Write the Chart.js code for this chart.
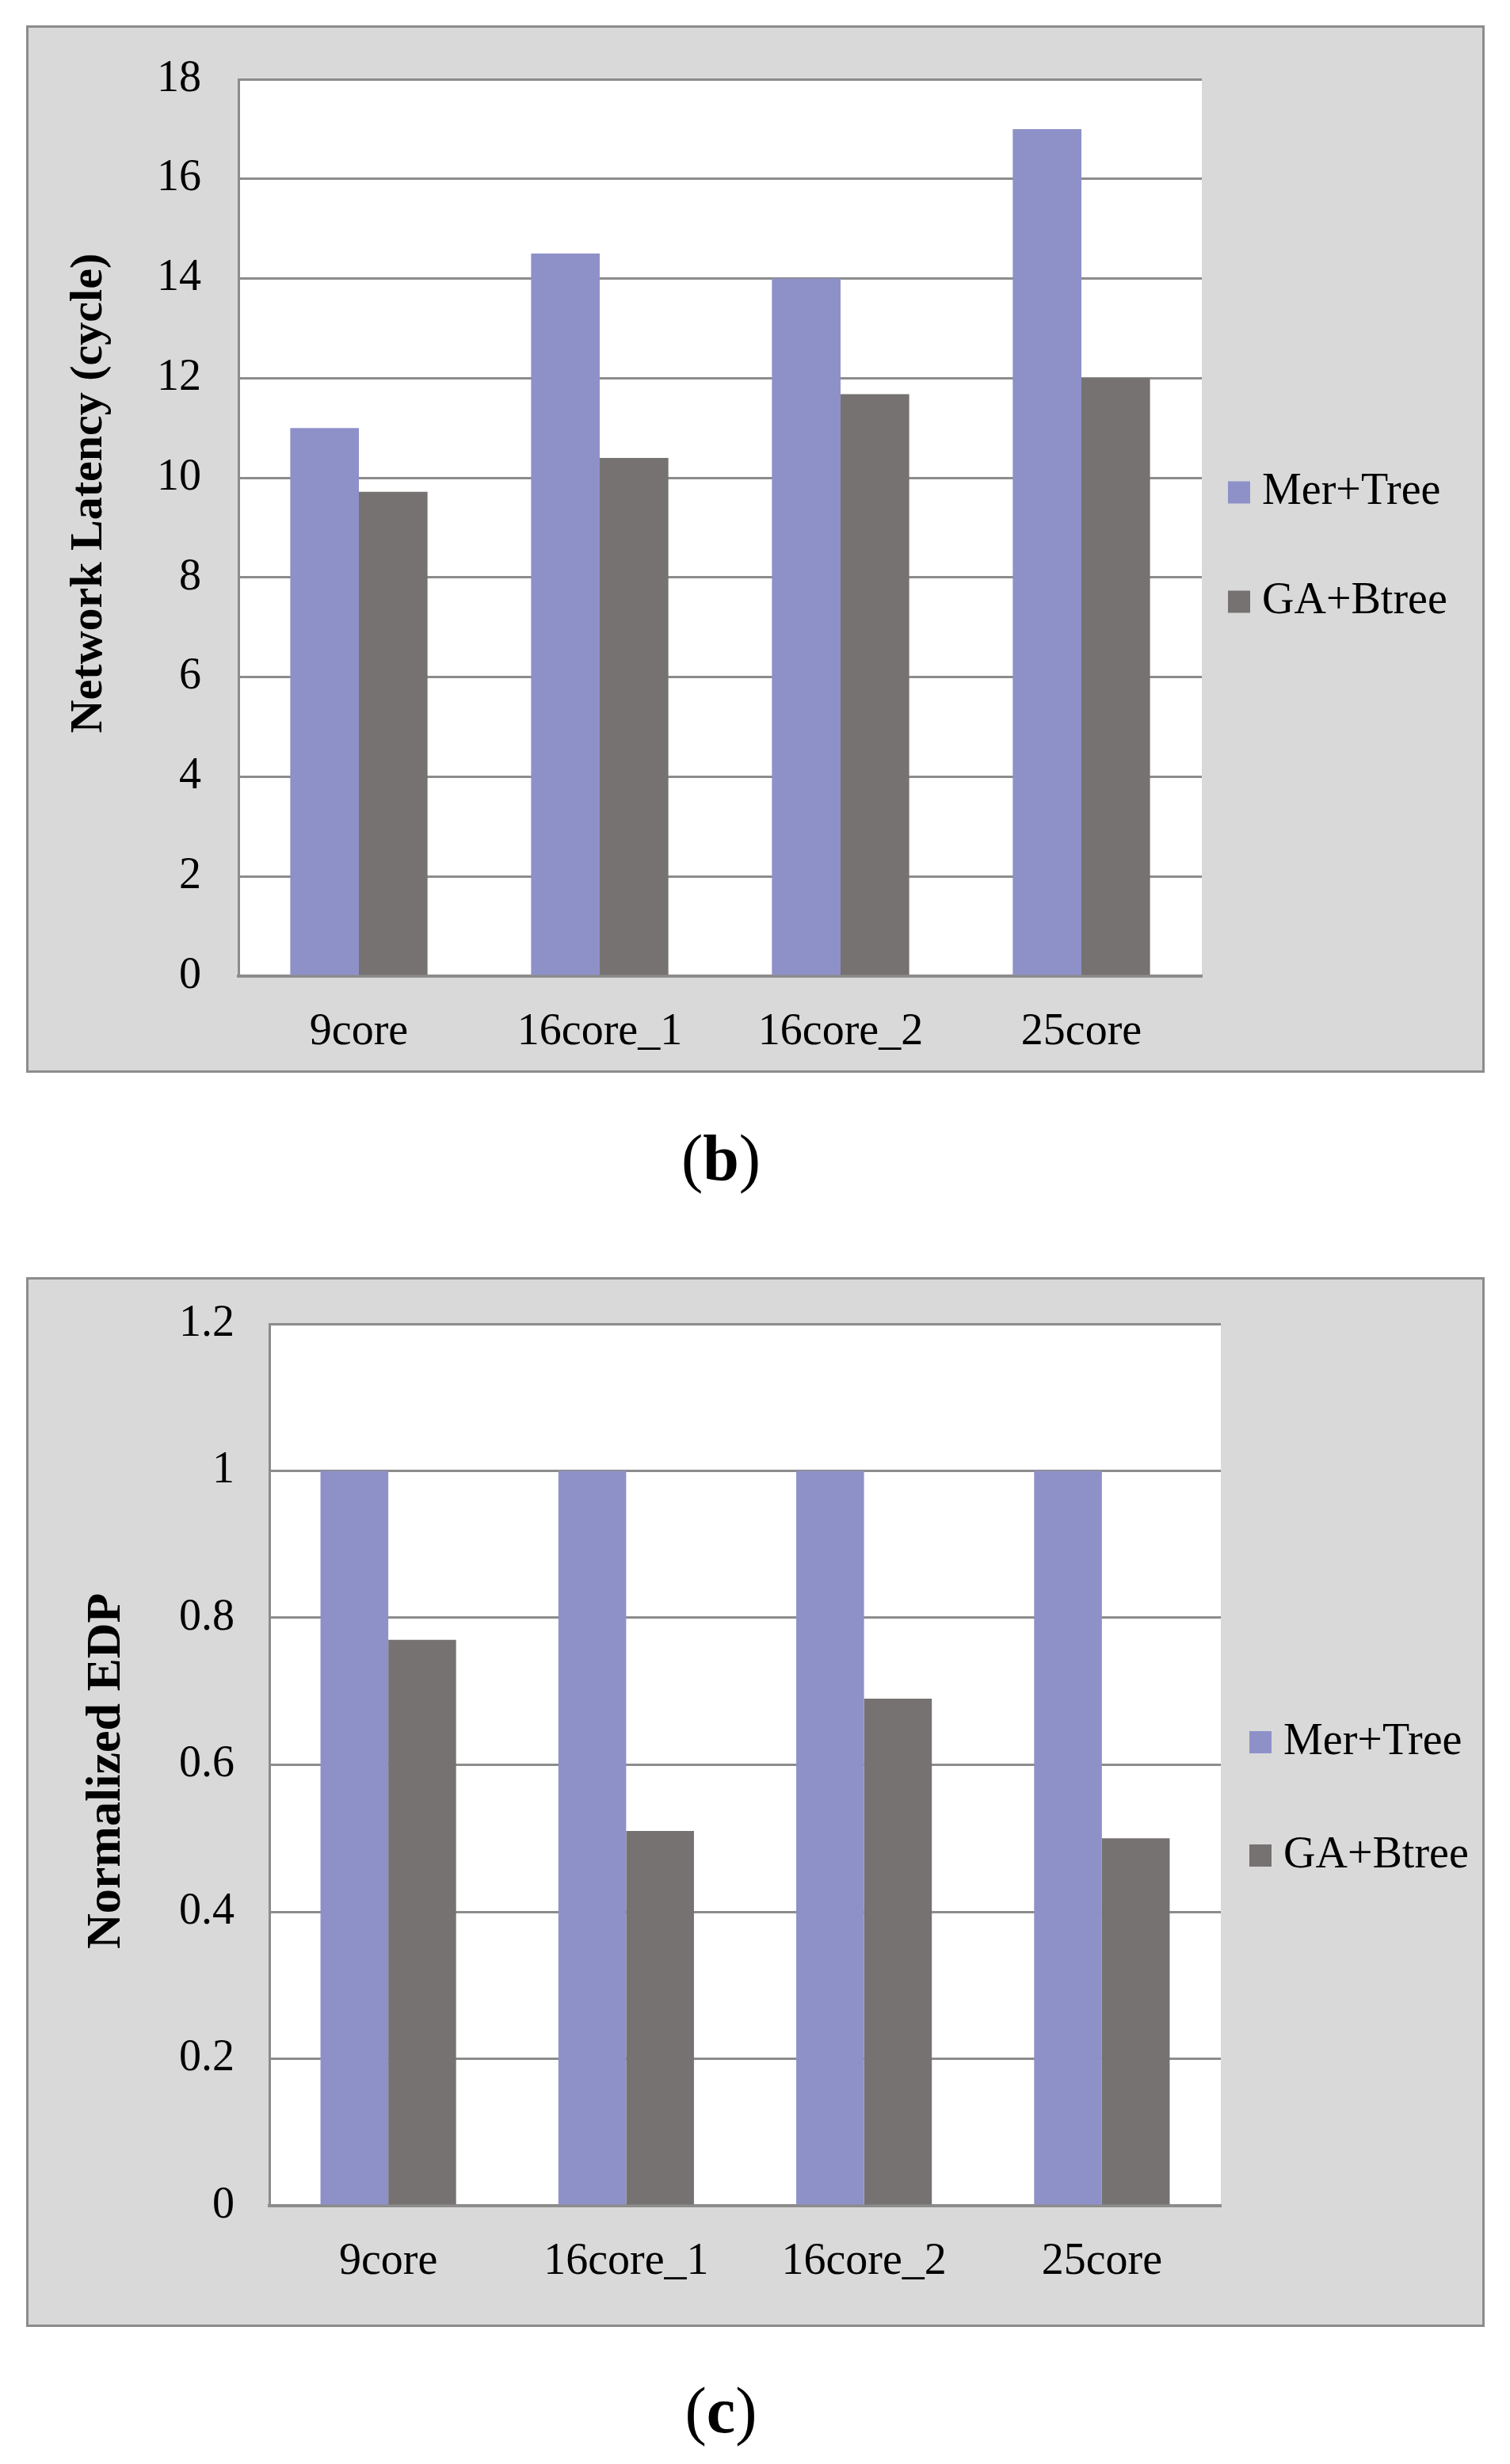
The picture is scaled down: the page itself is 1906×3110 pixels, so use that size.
<!DOCTYPE html>
<html>
<head>
<meta charset="utf-8">
<title>Network latency and normalized EDP</title>
<script src="https://cdn.jsdelivr.net/npm/chart.js@4.4.1/dist/chart.umd.min.js"></script>
<style>
  html, body { margin: 0; padding: 0; background: #ffffff; }
  body { position: relative; width: 1906px; height: 3110px; font-family: "Liberation Serif", "Times New Roman", serif; }
  .panel { position: absolute; left: 33px; width: 1841px; box-sizing: border-box; border: 3px solid #8c8c8c; background: #d9d9d9; }
  .panel canvas { display: block; }
  .caption { position: absolute; left: 0; width: 1820px; text-align: center; font-size: 82px; line-height: 1; color: #000; }
</style>
</head>
<body>

<div class="panel" style="top:32px;height:1322px;"><canvas id="latencyChart" width="1835" height="1316" style="width:1835px;height:1316px;"></canvas></div>
<div class="caption" style="top:1421px;">(<b>b</b>)</div>

<div class="panel" style="top:1612px;height:1325px;"><canvas id="edpChart" width="1835" height="1319" style="width:1835px;height:1319px;"></canvas></div>
<div class="caption" style="top:3002px;">(<b>c</b>)</div>

<script>
// --- data ---
const categories = ['9core', '16core_1', '16core_2', '25core'];
const seriesNames = ['Mer+Tree', 'GA+Btree'];

const latencyMerTree = [11, 14.5, 14, 17];
const latencyGaBtree = [9.72, 10.4, 11.68, 12];
const latencyTicks = [0, 2, 4, 6, 8, 10, 12, 14, 16, 18];

const edpMerTree = [1, 1, 1, 1];
const edpGaBtree = [0.77, 0.51, 0.69, 0.5];
const edpTicks = [0, 0.2, 0.4, 0.6, 0.8, 1, 1.2];

const purple = '#8e91c8';
const grey = '#767271';
const lineGrey = '#8c8c8c';
const serif = "'Liberation Serif', 'Times New Roman', serif";

// grey panel + white plot area
const panelFill = {
    id: 'panelFill',
    beforeDraw(chart) {
        const { ctx, chartArea: a } = chart;
        ctx.save();
        ctx.fillStyle = '#d9d9d9';
        ctx.fillRect(0, 0, chart.width, chart.height);
        ctx.fillStyle = '#ffffff';
        ctx.fillRect(a.left, a.top, a.right - a.left, a.bottom - a.top);
        ctx.restore();
    }
};

// fixed legend width, then nudge its contents into place
const legendPlace = {
    id: 'legendPlace',
    beforeInit(chart, args, opts) {
        const lg = chart.legend;
        const fit = lg.fit;
        lg.fit = function () {
            fit.call(this);
            this.width = opts.width;
        };
    },
    afterLayout(chart, args, opts) {
        const lg = chart.legend;
        lg.left += opts.dx;
        lg.top += opts.dy;
        lg.bottom += opts.dy;
    }
};

function makeChart(id, cfg) {
    const ctx = document.getElementById(id).getContext('2d');
    return new Chart(ctx, {
        type: 'bar',
        data: {
            labels: categories,
            datasets: [
                { label: seriesNames[0], data: cfg.a, backgroundColor: purple, borderWidth: 0 },
                { label: seriesNames[1], data: cfg.b, backgroundColor: grey, borderWidth: 0 }
            ]
        },
        options: {
            responsive: false,
            animation: false,
            events: [],
            layout: { padding: { top: cfg.top, left: 0, right: 0, bottom: 0 } },
            datasets: { bar: { categoryPercentage: 0.57, barPercentage: 1 } },
            plugins: {
                tooltip: { enabled: false },
                legend: {
                    position: 'right',
                    labels: {
                        color: '#000',
                        font: { family: serif, size: 56 },
                        usePointStyle: true,
                        pointStyle: 'rect',
                        boxWidth: 2,
                        boxHeight: 28,
                        padding: cfg.legendPad
                    }
                },
                legendPlace: { width: cfg.legendWidth, dx: cfg.legendDx, dy: cfg.legendDy }
            },
            scales: {
                x: {
                    grid: { display: false, drawTicks: false },
                    border: { display: true, color: lineGrey, width: 4 },
                    ticks: { color: '#000', font: { family: serif, size: 56 }, padding: 38, maxRotation: 0 },
                    afterFit(scale) { scale.height = cfg.xHeight; }
                },
                y: {
                    min: cfg.ticks[0],
                    max: cfg.ticks[cfg.ticks.length - 1],
                    afterBuildTicks(scale) { scale.ticks = cfg.ticks.map(v => ({ value: v })); },
                    grid: { color: lineGrey, lineWidth: 3, drawTicks: false },
                    border: { display: true, color: lineGrey, width: 3 },
                    ticks: {
                        color: '#000',
                        font: { family: serif, size: 56, lineHeight: 0.4 },
                        padding: cfg.yPad,
                        callback: v => String(parseFloat(Number(v).toFixed(2)))
                    },
                    title: {
                        display: true,
                        text: cfg.title,
                        color: '#000',
                        font: { family: serif, size: cfg.titleSize, weight: 'bold' },
                        padding: { top: cfg.titlePad, bottom: 0 }
                    },
                    afterFit(scale) { scale.width = cfg.yWidth; }
                }
            }
        },
        plugins: [panelFill, legendPlace]
    });
}

makeChart('latencyChart', {
    a: latencyMerTree, b: latencyGaBtree, ticks: latencyTicks,
    title: '\u00a0\u00a0\u00a0\u00a0\u00a0\u00a0Network Latency (cycle)', titleSize: 58, titlePad: 42,
    top: 65, yWidth: 265, xHeight: 119, yPad: 47,
    legendWidth: 354, legendPad: 82, legendDx: -36, legendDy: -35
});

makeChart('edpChart', {
    a: edpMerTree, b: edpGaBtree, ticks: edpTicks,
    title: 'Normalized EDP\u00a0', titleSize: 62, titlePad: 62,
    top: 56, yWidth: 304, xHeight: 150, yPad: 44,
    legendWidth: 330, legendPad: 87, legendDx: -38, legendDy: -32
});
</script>
</body>
</html>
